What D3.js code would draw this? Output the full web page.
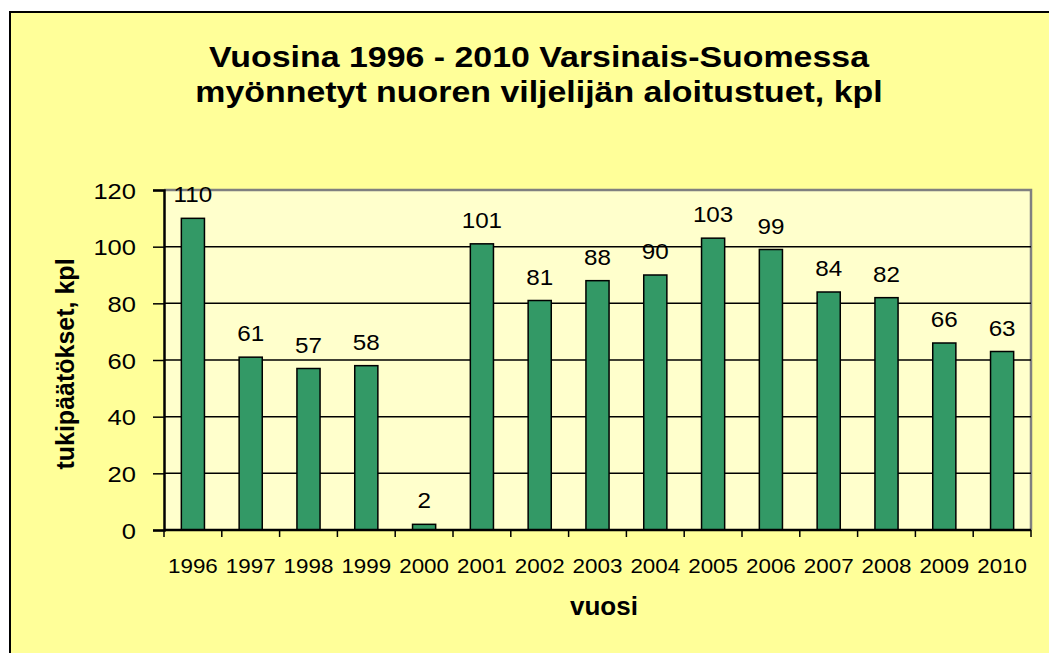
<!DOCTYPE html>
<html>
<head>
<meta charset="utf-8">
<script src="https://cdn.jsdelivr.net/npm/d3@7"></script>
<style>
  html, body { margin: 0; padding: 0; background: #fff; }
  svg { display: block; font-family: "Liberation Sans", Arial, sans-serif; }
</style>
</head>
<body>
<div id="container"></div>
<script>
// data
const years = ["1996", "1997", "1998", "1999", "2000", "2001", "2002", "2003",
  "2004", "2005", "2006", "2007", "2008", "2009", "2010"];
const counts = [110, 61, 57, 58, 2, 101, 81, 88, 90, 103, 99, 84, 82, 66, 63];
const yTicks = [0, 20, 40, 60, 80, 100, 120];
const titleLines = ["Vuosina 1996 - 2010 Varsinais-Suomessa",
  "myönnetyt nuoren viljelijän aloitustuet, kpl"];
const yTitle = "tukipäätökset,  kpl";
const xTitle = "vuosi";

const W = 1049, H = 653;
const plot = { left: 164, top: 190, right: 1031, bottom: 530 };
// the original chart text is a bit wider than Arial, stretch it sideways
const stretch = 1.13;

const svg = d3.select("#container").append("svg")
  .attr("width", W).attr("height", H);

// outer chart area
svg.append("rect")
  .attr("x", 10).attr("y", 12).attr("width", W + 20).attr("height", H + 20)
  .attr("fill", "#ffff99").attr("stroke", "#000").attr("stroke-width", 2);

// title
titleLines.forEach((line, i) => {
  svg.append("text")
    .attr("transform", `translate(539,${67 + i * 35}) scale(${stretch},1)`)
    .attr("text-anchor", "middle")
    .attr("font-size", 30).attr("font-weight", "bold")
    .text(line);
});

const xBand = d3.scaleBand().domain(years).range([plot.left, plot.right]);
const y = d3.scaleLinear().domain([0, 120]).range([plot.bottom, plot.top]);

// plot area
svg.append("rect")
  .attr("x", plot.left).attr("y", plot.top)
  .attr("width", plot.right - plot.left).attr("height", plot.bottom - plot.top)
  .attr("fill", "#ffffcc");
svg.append("path")
  .attr("d", `M${plot.left},${plot.top}H${plot.right}V${plot.bottom}`)
  .attr("fill", "none").attr("stroke", "#808080").attr("stroke-width", 2.5);

// gridlines
svg.append("g").selectAll("line").data(yTicks.filter(t => t > 0 && t < 120)).enter().append("line")
  .attr("x1", plot.left).attr("x2", plot.right)
  .attr("y1", d => y(d)).attr("y2", d => y(d))
  .attr("stroke", "#000").attr("stroke-width", 1.5);

// bars
const bw = xBand.bandwidth() / 2.5;
svg.append("g").selectAll("rect").data(counts).enter().append("rect")
  .attr("x", (d, i) => xBand(years[i]) + xBand.bandwidth() / 2 - bw / 2)
  .attr("y", d => y(d))
  .attr("width", bw)
  .attr("height", d => y(0) - y(d))
  .attr("fill", "#339966").attr("stroke", "#000").attr("stroke-width", 1.5);

// value labels
svg.append("g").selectAll("text").data(counts).enter().append("text")
  .attr("transform", (d, i) =>
    `translate(${xBand(years[i]) + xBand.bandwidth() / 2},${y(d) - 16}) scale(1.1,1)`)
  .attr("text-anchor", "middle").attr("font-size", 22)
  .text(d => d);

// y axis
const yAxis = svg.append("g")
  .attr("transform", `translate(${plot.left},0)`)
  .call(d3.axisLeft(y).tickValues(yTicks).tickSize(11).tickPadding(0));
yAxis.select(".domain").attr("stroke-width", 2.5);
yAxis.selectAll(".tick line").attr("stroke-width", 1.5);
yAxis.selectAll(".tick text")
  .attr("x", null).attr("dy", null)
  .attr("transform", "translate(-28,8) scale(1.16,1)")
  .attr("font-size", 22).attr("fill", "#000")
  .attr("font-family", "Liberation Sans, Arial, sans-serif");

// x axis, ticks between categories
const xAxis = svg.append("g")
  .attr("transform", `translate(0,${plot.bottom})`)
  .call(d3.axisBottom(xBand).tickSize(0).tickPadding(0));
xAxis.select(".domain").attr("stroke-width", 2.5).attr("d", `M${plot.left},0H${plot.right}`);
xAxis.selectAll(".tick text")
  .attr("y", null).attr("dy", null)
  .attr("transform", "translate(0,43) scale(1.12,1)")
  .attr("font-size", 20).attr("fill", "#000")
  .attr("font-family", "Liberation Sans, Arial, sans-serif");
xAxis.append("g").selectAll("line").data(years.concat(["end"])).enter().append("line")
  .attr("x1", (d, i) => plot.left + i * xBand.step())
  .attr("x2", (d, i) => plot.left + i * xBand.step())
  .attr("y1", 0).attr("y2", 7)
  .attr("stroke", "#000").attr("stroke-width", 1.5);

// axis titles
svg.append("text")
  .attr("transform", "translate(74,364) rotate(-90)")
  .attr("text-anchor", "middle").attr("font-size", 25).attr("font-weight", "bold")
  .text(yTitle);
svg.append("text")
  .attr("x", 604).attr("y", 615)
  .attr("text-anchor", "middle").attr("font-size", 26).attr("font-weight", "bold")
  .text(xTitle);
</script>
</body>
</html>
